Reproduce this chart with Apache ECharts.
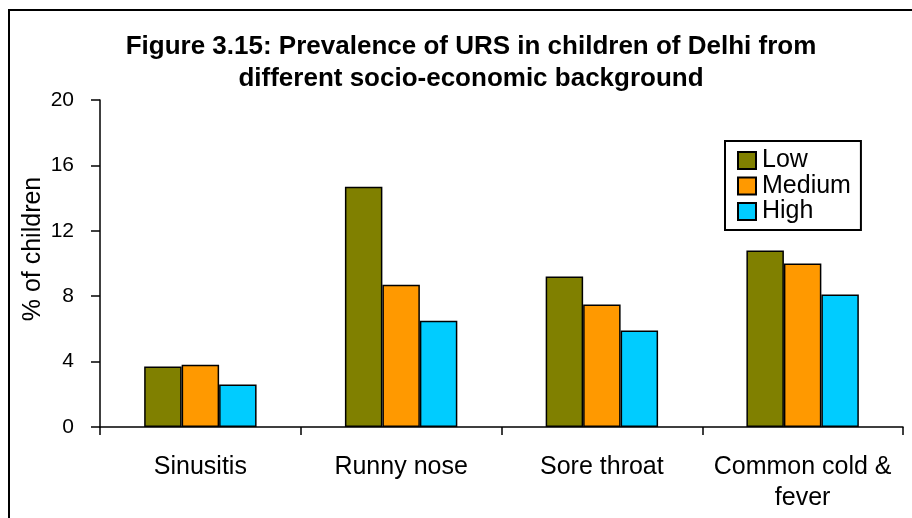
<!DOCTYPE html>
<html>
<head>
<meta charset="utf-8">
<script src="https://cdn.jsdelivr.net/npm/echarts@6/dist/echarts.min.js"></script>
<style>html,body{margin:0;padding:0;background:#fff}#c{width:912px;height:518px}</style>
</head>
<body>
<div id="c"></div>
<script>
const categories = ['Sinusitis', 'Runny nose', 'Sore throat', 'Common cold &\nfever'];
const seriesNames = ['Low', 'Medium', 'High'];
const lowValues = [3.7, 14.7, 9.2, 10.8];
const mediumValues = [3.8, 8.7, 7.5, 10.0];
const highValues = [2.6, 6.5, 5.9, 8.1];
const yTicks = [0, 4, 8, 12, 16, 20];
const colors = ['#808000', '#FF9900', '#00CCFF'];

const FONT = 'Arial, "Liberation Sans", sans-serif';
const chart = echarts.init(document.getElementById('c'), null, {renderer: 'canvas'});
const values = [lowValues, mediumValues, highValues];
chart.setOption({
  animation: false,
  backgroundColor: '#fff',
  textStyle: {fontFamily: FONT, color: '#000'},
  title: {
    text: 'Figure 3.15: Prevalence of URS in children of Delhi from\ndifferent socio-economic background',
    left: 466, top: 26, textAlign: 'center',
    textStyle: {fontFamily: FONT, fontWeight: 'bold', fontSize: 26, lineHeight: 32, color: '#000'}
  },
  graphic: [
    {type: 'rect', shape: {x: 9, y: 10, width: 1000, height: 1000}, style: {fill: 'none', stroke: '#000', lineWidth: 2}, silent: true},
    {type: 'text', x: 33, y: 249, rotation: Math.PI / 2,
      style: {text: '% of children', fontFamily: FONT, fontSize: 25, fill: '#000', align: 'center', verticalAlign: 'middle'}}
  ],
  legend: {
    orient: 'vertical', left: 725, top: 141,
    width: 130,
    padding: [7, 10, 6, 12],
    borderColor: '#000', borderWidth: 2,
    itemWidth: 18, itemHeight: 17, itemGap: 0.5,
    icon: 'rect',
    textStyle: {fontFamily: FONT, fontSize: 25, color: '#000', lineHeight: 23, padding: [0, 0, 0, 1]},
    data: seriesNames
  },
  grid: {left: 100, right: 9, top: 100, bottom: 91, containLabel: false},
  xAxis: {
    type: 'category', data: categories,
    axisLine: {lineStyle: {color: '#000', width: 1.5}},
    axisTick: {show: true, length: 8, lineStyle: {color: '#000', width: 1.5}},
    axisLabel: {fontFamily: FONT, fontSize: 25, color: '#000', margin: 25, lineHeight: 31, interval: 0}
  },
  yAxis: {
    type: 'value', min: yTicks[0], max: yTicks[yTicks.length - 1], interval: yTicks[1] - yTicks[0],
    axisLine: {show: true, lineStyle: {color: '#000', width: 1.5}},
    axisTick: {show: true, length: 9, lineStyle: {color: '#000', width: 1.5}},
    splitLine: {show: false},
    axisLabel: {fontFamily: FONT, fontSize: 21, color: '#000', margin: 26}
  },
  series: seriesNames.map((n, i) => ({
    name: n, type: 'bar', data: values[i],
    barGap: '0%', barCategoryGap: '44%',
    itemStyle: {color: colors[i], borderColor: '#000', borderWidth: 1.5}
  }))
});
</script>
</body>
</html>
